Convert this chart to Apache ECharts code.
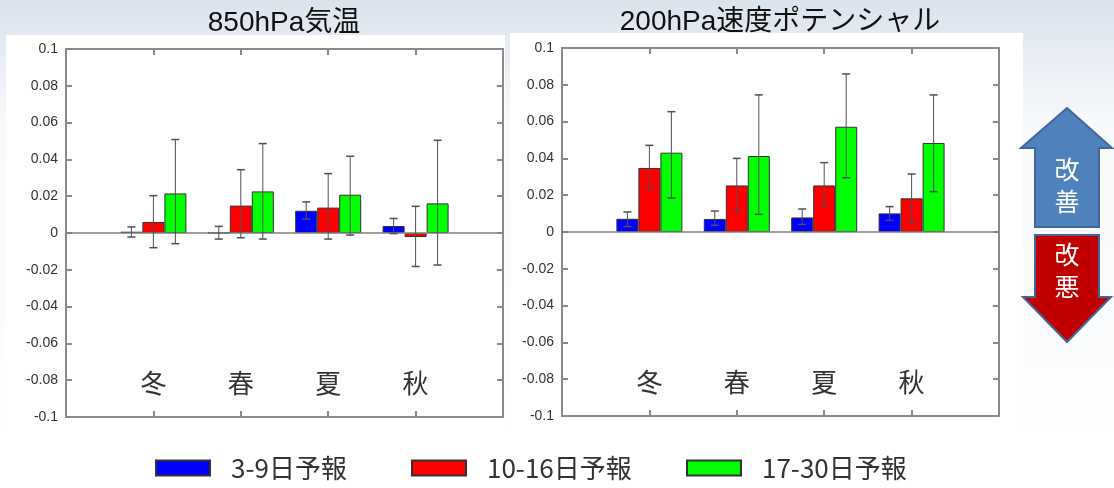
<!DOCTYPE html>
<html><head><meta charset="utf-8">
<script src="https://cdn.jsdelivr.net/npm/echarts@6/dist/echarts.min.js"></script>
<style>html,body{margin:0;padding:0;background:#fff}#c{width:1114px;height:488px}</style>
</head><body><div id="c"></div>
<script>
// ---- data ----
const seasons = ['冬', '春', '夏', '秋'];
const seriesNames = ['3-9日予報', '10-16日予報', '17-30日予報'];
const seriesColors = ['#0000ff', '#ff0000', '#00ff00'];
const chartTitles = ['850hPa気温', '200hPa速度ポテンシャル'];
const yTicks = { min: -0.1, max: 0.1, step: 0.02 };

// 850hPa 気温
const t850_s1 = [0.0007, 0.0001, 0.0121, 0.0038];
const t850_s1_lo = [-0.0022, -0.0033, 0.0076, -0.0003];
const t850_s1_hi = [0.0033, 0.0036, 0.0169, 0.0079];
const t850_s2 = [0.0060, 0.0149, 0.0138, -0.0022];
const t850_s2_lo = [-0.0080, -0.0026, -0.0033, -0.0182];
const t850_s2_hi = [0.0203, 0.0344, 0.0323, 0.0145];
const t850_s3 = [0.0215, 0.0226, 0.0208, 0.0161];
const t850_s3_lo = [-0.0058, -0.0033, -0.0011, -0.0174];
const t850_s3_hi = [0.0508, 0.0486, 0.0417, 0.0504];

// 200hPa 速度ポテンシャル
const chi200_s1 = [0.0072, 0.0071, 0.0079, 0.0101];
const chi200_s1_lo = [0.0030, 0.0036, 0.0041, 0.0063];
const chi200_s1_hi = [0.0109, 0.0114, 0.0125, 0.0138];
const chi200_s2 = [0.0348, 0.0253, 0.0253, 0.0183];
const chi200_s2_lo = [0.0237, 0.0112, 0.0143, 0.0052];
const chi200_s2_hi = [0.0471, 0.0400, 0.0377, 0.0315];
const chi200_s3 = [0.0431, 0.0413, 0.0572, 0.0484];
const chi200_s3_lo = [0.0185, 0.0096, 0.0295, 0.0219];
const chi200_s3_hi = [0.0654, 0.0745, 0.0859, 0.0745];

const panels = [
  { vals: [t850_s1, t850_s2, t850_s3], lo: [t850_s1_lo, t850_s2_lo, t850_s3_lo], hi: [t850_s1_hi, t850_s2_hi, t850_s3_hi] },
  { vals: [chi200_s1, chi200_s2, chi200_s3], lo: [chi200_s1_lo, chi200_s2_lo, chi200_s3_lo], hi: [chi200_s1_hi, chi200_s2_hi, chi200_s3_hi] }
];

// ---- style ----
const LATIN = '"Liberation Sans", "Noto Sans CJK JP", sans-serif';
const CJK = '"Noto Sans CJK JP", sans-serif';
const AX = '#8a8a8a';
const BAR_W = 22;
const grids = [
  { left: 66, top: 49, width: 437, height: 368 },
  { left: 562, top: 48, width: 437, height: 368 }
];
const catData = [''].concat(seasons, ['']);
const mkLine = () => ({ show: true, onZero: false, lineStyle: { color: AX, width: 2 } });
const mkTick = () => ({ show: true, inside: true, length: 6, interval: 0, lineStyle: { color: AX, width: 2 } });

const xAxes = [], yAxes = [], series = [];
grids.forEach((g, gi) => {
  xAxes.push({ gridIndex: gi, type: 'category', data: catData, boundaryGap: false, position: 'bottom',
    axisLine: mkLine(), axisTick: mkTick(),
    axisLabel: { inside: true, margin: 21, fontSize: 26, color: '#333', fontFamily: CJK, interval: 0 },
    splitLine: { show: false } });
  xAxes.push({ gridIndex: gi, type: 'category', data: catData, boundaryGap: false, position: 'top',
    axisLine: mkLine(), axisTick: mkTick(),
    axisLabel: { show: false }, splitLine: { show: false } });
  yAxes.push({ gridIndex: gi, type: 'value', min: yTicks.min, max: yTicks.max, interval: yTicks.step, position: 'left',
    axisLine: mkLine(), axisTick: mkTick(),
    axisLabel: { margin: 8, fontSize: 14, color: '#333', fontFamily: LATIN,
      formatter: v => String(Math.round(v * 100) / 100) },
    splitLine: { show: false } });
  yAxes.push({ gridIndex: gi, type: 'value', min: yTicks.min, max: yTicks.max, interval: yTicks.step, position: 'right',
    axisLine: mkLine(), axisTick: mkTick(),
    axisLabel: { show: false }, splitLine: { show: false } });

  const p = panels[gi];
  seriesNames.forEach((name, si) => {
    const s = {
      name, type: 'bar', xAxisIndex: gi * 2, yAxisIndex: gi * 2,
      data: ['-'].concat(p.vals[si], ['-']),
      barWidth: BAR_W, barGap: '0%',
      itemStyle: { color: seriesColors[si], borderColor: '#333', borderWidth: 1 },
      silent: true, z: 2
    };
    if (si === 0) {
      s.markLine = { silent: true, symbol: 'none', label: { show: false },
        lineStyle: { color: '#808080', width: 1.5, type: 'solid' }, data: [{ yAxis: 0 }], z: 3 };
    }
    series.push(s);
  });
  seriesNames.forEach((name, si) => {
    const offset = (si - 1) * BAR_W;
    series.push({
      type: 'custom', xAxisIndex: gi * 2, yAxisIndex: gi * 2, silent: true, z: 5,
      data: seasons.map((_, i) => [i + 1, p.lo[si][i], p.hi[si][i]]),
      renderItem: (params, api) => {
        const a = api.coord([api.value(0), api.value(1)]);
        const b = api.coord([api.value(0), api.value(2)]);
        const x = a[0] + offset;
        const st = { stroke: '#505050', lineWidth: 1 };
        const cap = { stroke: '#505050', lineWidth: 1.5 };
        return { type: 'group', children: [
          { type: 'line', shape: { x1: x, y1: a[1], x2: x, y2: b[1] }, style: st },
          { type: 'line', shape: { x1: x - 4, y1: a[1], x2: x + 4, y2: a[1] }, style: cap },
          { type: 'line', shape: { x1: x - 4, y1: b[1], x2: x + 4, y2: b[1] }, style: cap }
        ] };
      }
    });
  });
});

const legendLefts = [155, 411, 686];
const legends = seriesNames.map((n, i) => ({
  data: [n], left: legendLefts[i], top: 455, padding: 0, icon: 'rect',
  itemWidth: 54, itemHeight: 15, selectedMode: false,
  textStyle: { fontSize: 26, color: '#333', fontFamily: CJK, padding: [0, 0, 0, 16] }
}));

const arrowStroke = '#3f6898';
const graphic = [
  { type: 'rect', z: -10, shape: { x: 0, y: 0, width: 1114, height: 488 },
    style: { fill: new echarts.graphic.LinearGradient(0, 0, 0, 1, [
      { offset: 0, color: '#dbe3ed' }, { offset: 0.25, color: '#f7f9fb' }, { offset: 1, color: '#ffffff' }]) } },
  { type: 'rect', z: -9, shape: { x: 6, y: 35, width: 499, height: 400 }, style: { fill: '#ffffff' } },
  { type: 'rect', z: -9, shape: { x: 510, y: 33, width: 513, height: 400 }, style: { fill: '#ffffff' } },
  { type: 'rect', z: -9, shape: { x: 0, y: 430, width: 1114, height: 58 }, style: { fill: '#ffffff' } },
  { type: 'text', style: { text: chartTitles[0], x: 284, y: 23, align: 'center', verticalAlign: 'middle',
      font: '28px ' + LATIN, fill: '#111' } },
  { type: 'text', style: { text: chartTitles[1], x: 780, y: 22, align: 'center', verticalAlign: 'middle',
      font: '28px ' + LATIN, fill: '#111' } },
  { type: 'polygon', shape: { points: [[1067, 108], [1112, 148], [1099, 148], [1099, 227], [1035, 227], [1035, 148], [1021, 148]] },
    style: { fill: '#4f81bd', stroke: arrowStroke, lineWidth: 2 } },
  { type: 'polygon', shape: { points: [[1035, 235], [1099, 235], [1099, 297], [1111, 297], [1067, 342], [1023, 297], [1035, 297]] },
    style: { fill: '#c00000', stroke: arrowStroke, lineWidth: 2 } },
  { type: 'text', style: { text: '改', x: 1067, y: 169, align: 'center', verticalAlign: 'middle', font: '25px ' + CJK, fill: '#fff' } },
  { type: 'text', style: { text: '善', x: 1067, y: 201, align: 'center', verticalAlign: 'middle', font: '25px ' + CJK, fill: '#fff' } },
  { type: 'text', style: { text: '改', x: 1067, y: 254, align: 'center', verticalAlign: 'middle', font: '25px ' + CJK, fill: '#fff' } },
  { type: 'text', style: { text: '悪', x: 1067, y: 286, align: 'center', verticalAlign: 'middle', font: '25px ' + CJK, fill: '#fff' } }
];

const chart = echarts.init(document.getElementById('c'), null, { renderer: 'canvas' });
chart.setOption({
  animation: false,
  backgroundColor: '#ffffff',
  grid: grids,
  xAxis: xAxes,
  yAxis: yAxes,
  legend: legends,
  graphic,
  series
});
</script></body></html>
